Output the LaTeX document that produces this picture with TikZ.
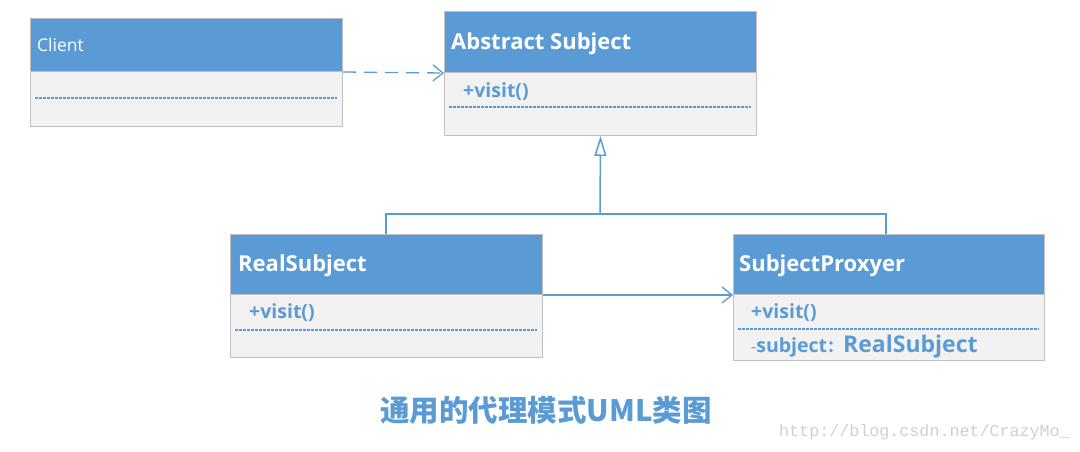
\documentclass[tikz,border=0pt]{standalone}
\usepackage{fontspec}
\setmainfont{Open Sans}
\newfontfamily\cjk{Noto Sans CJK SC}
\newfontfamily\wmfont{Liberation Mono}
\usetikzlibrary{arrows.meta}
\definecolor{hdr}{HTML}{5B9BD5}
\definecolor{bodyc}{HTML}{F2F2F2}
\definecolor{brd}{HTML}{C0C0C0}
\definecolor{txtb}{HTML}{5B9BD5}
\definecolor{wm}{HTML}{D0D0D0}
\tikzset{
  hbox/.style={draw=brd, fill=hdr, line width=1pt, inner sep=0pt, anchor=north west},
  bbox/.style={draw=brd, fill=bodyc, line width=1pt, inner sep=0pt, anchor=north west},
  dotl/.style={draw=txtb, dash pattern=on 2.5pt off 1.5pt, line width=1.1pt},
  title/.style={text=white, font=\fontsize{22}{26}\selectfont\bfseries, anchor=west, inner sep=0pt},
  member/.style={text=txtb, font=\fontsize{19.5}{23}\selectfont\bfseries, anchor=west, inner sep=0pt},
  conn/.style={draw=txtb, line width=1.5pt},
}
\begin{document}
\begin{tikzpicture}[x=1pt,y=-1pt]
\useasboundingbox (0,0) rectangle (1080,452);
% Client
\node[bbox, minimum width=312pt, minimum height=55pt] (clientB) at (30,71) {};
\node[hbox, minimum width=312pt, minimum height=53pt] (clientH) at (30,18) {};
\node[text=white, font=\fontsize{17.5}{20}\selectfont, anchor=west, inner sep=0pt] (clientT) at (37,45) {Client};
\draw[dotl] (35,98) -- (337,98);
% Abstract Subject
\node[bbox, minimum width=312pt, minimum height=63pt] (absB) at (444,72) {};
\node[hbox, minimum width=312pt, minimum height=61pt] (absH) at (444,11) {};
\node[title] (absT) at (451,44) {Abstract Subject};
\node[member] (absM) at (463,92) {+visit()};
\draw[dotl] (449,107) -- (751,107);
% RealSubject
\node[bbox, minimum width=312pt, minimum height=63pt] (rsB) at (230,294) {};
\node[hbox, minimum width=312pt, minimum height=60pt] (rsH) at (230,234) {};
\node[title] (rsT) at (238,266) {RealSubject};
\node[member] (rsM) at (249,313) {+visit()};
\draw[dotl] (235,330) -- (537,330);
% SubjectProxyer
\node[bbox, minimum width=311pt, minimum height=66pt] (spB) at (733,294) {};
\node[hbox, minimum width=311pt, minimum height=60pt] (spH) at (733,234) {};
\node[title] (spT) at (739,266) {SubjectProxyer};
\node[member] (spM) at (751,313) {+visit()};
\draw[dotl] (738,329) -- (1039,329);
\node[member, anchor=base west] (spA) at (751,352) {{\fontsize{16}{18}\selectfont\mdseries -}{\fontsize{19.5}{22}\selectfont subject}{\cjk\fontsize{16}{18}\selectfont ：}{\fontsize{23}{27}\selectfont RealSubject}};
% connectors
\draw[conn, line width=1.3pt, dash pattern=on 13pt off 8pt, -{Straight Barb[length=10pt, width=16pt, line width=1.3pt]}] (clientH.south east) -- (absH.south west);
\coordinate (j) at (600,214);
\coordinate (rsTop) at (386,234);
\coordinate (spTop) at (886,234);
\draw[conn] (rsTop) |- (j);
\draw[conn] (spTop) |- (j);
\draw[conn, -{Triangle[open, length=20pt, width=12pt, line width=1.5pt]}] (j) -- (absB.south);
\draw[conn, -{Straight Barb[length=10pt, width=16pt, line width=1.3pt]}] (rsH.south east) -- (spH.south west);
% caption
\node[text=txtb, font=\cjk\fontsize{29.5}{34}\selectfont\bfseries, inner sep=0pt] (cap) at (546,410) {通用的代理模式UML类图};
\node[text=wm, font=\wmfont\fontsize{16.7}{20}\selectfont, anchor=west, inner sep=0pt] (wmk) at (779,432) {http://blog.csdn.net/CrazyMo\_};
\end{tikzpicture}
\end{document}
